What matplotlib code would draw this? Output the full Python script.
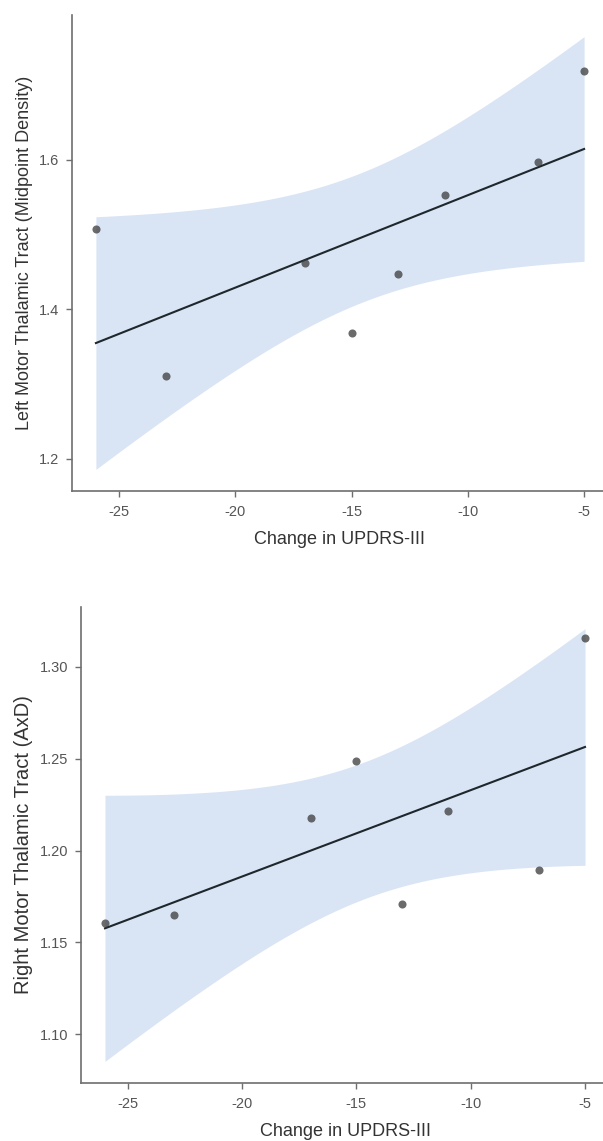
import numpy as np
import matplotlib.pyplot as plt

plt.rcParams['font.family'] = ['Liberation Sans', 'DejaVu Sans']

# change in UPDRS-III per subject
updrs_change = np.array([-26, -23, -17, -15, -13, -11, -7, -5])
# tract measures
left_density = np.array([1.507, 1.311, 1.462, 1.368, 1.448, 1.553, 1.597, 1.719])
right_axd = np.array([1.1607, 1.1647, 1.2176, 1.2489, 1.1709, 1.2214, 1.1895, 1.3159])

x_ticks = [-25, -20, -15, -10, -5]
left_yticks = [1.2, 1.4, 1.6]
right_yticks = [1.10, 1.15, 1.20, 1.25, 1.30]

T_975_DF6 = 2.447  # t quantile, n - 2 = 6 dof


def lm_band(x, y, grid):
    n = len(x)
    slope, intercept = np.polyfit(x, y, 1)
    fit = intercept + slope * grid
    resid = y - (intercept + slope * x)
    s = np.sqrt(np.sum(resid ** 2) / (n - 2))
    sxx = np.sum((x - x.mean()) ** 2)
    se = s * np.sqrt(1 / n + (grid - x.mean()) ** 2 / sxx)
    return fit, fit - T_975_DF6 * se, fit + T_975_DF6 * se


def expand(lo, hi, frac=0.05):
    pad = (hi - lo) * frac
    return lo - pad, hi + pad


def smooth_panel(ax, x, y, ylabel, yticks, yfmt, ysize, ylab_x):
    grid = np.linspace(x.min(), x.max(), 80)
    fit, lo, hi = lm_band(x, y, grid)
    ax.fill_between(grid, lo, hi, color='#d9e5f5', lw=0, zorder=1)
    ax.plot(grid, fit, color='#1e272c', lw=1.5, zorder=2)
    ax.scatter(x, y, s=34, color='#3a3a3a', alpha=0.75, lw=0, zorder=3)

    ax.set_xlim(*expand(x.min(), x.max()))
    ax.set_ylim(*expand(min(lo.min(), y.min()), max(hi.max(), y.max())))
    ax.set_xticks(x_ticks)
    ax.set_xticklabels([str(t) for t in x_ticks])
    ax.set_yticks(yticks)
    ax.set_yticklabels([yfmt.format(t) for t in yticks])

    for side in ['top', 'right']:
        ax.spines[side].set_visible(False)
    for side in ['left', 'bottom']:
        ax.spines[side].set_color('#6e6e6e')
        ax.spines[side].set_linewidth(1.2)
    ax.tick_params(colors='#6e6e6e', labelcolor='#555555', labelsize=10.5,
                   length=4, width=1.0)
    ax.tick_params(axis='x', pad=6)
    ax.tick_params(axis='y', pad=5)
    ax.set_xlabel('Change in UPDRS-III', fontsize=13, color='#333333')
    ax.set_ylabel(ylabel, fontsize=ysize, color='#333333')
    ax.xaxis.set_label_coords(0.5, -0.083)
    ax.yaxis.set_label_coords(ylab_x, 0.5)


W, H = 603, 1141
fig = plt.figure(figsize=(W / 100, H / 100), dpi=100)

ax1 = fig.add_axes([71.5 / W, 1 - 491 / H, 537 / W, 476 / H])
smooth_panel(ax1, updrs_change, left_density,
             'Left Motor Thalamic Tract (Midpoint Density)', left_yticks, '{:.1f}',
             13, -0.072)

ax2 = fig.add_axes([81 / W, 1 - 1083 / H, 528 / W, 476 / H])
smooth_panel(ax2, updrs_change, right_axd,
             'Right Motor Thalamic Tract (AxD)', right_yticks, '{:.2f}',
             14.5, -0.091)

fig.savefig('out.png', dpi=100)
